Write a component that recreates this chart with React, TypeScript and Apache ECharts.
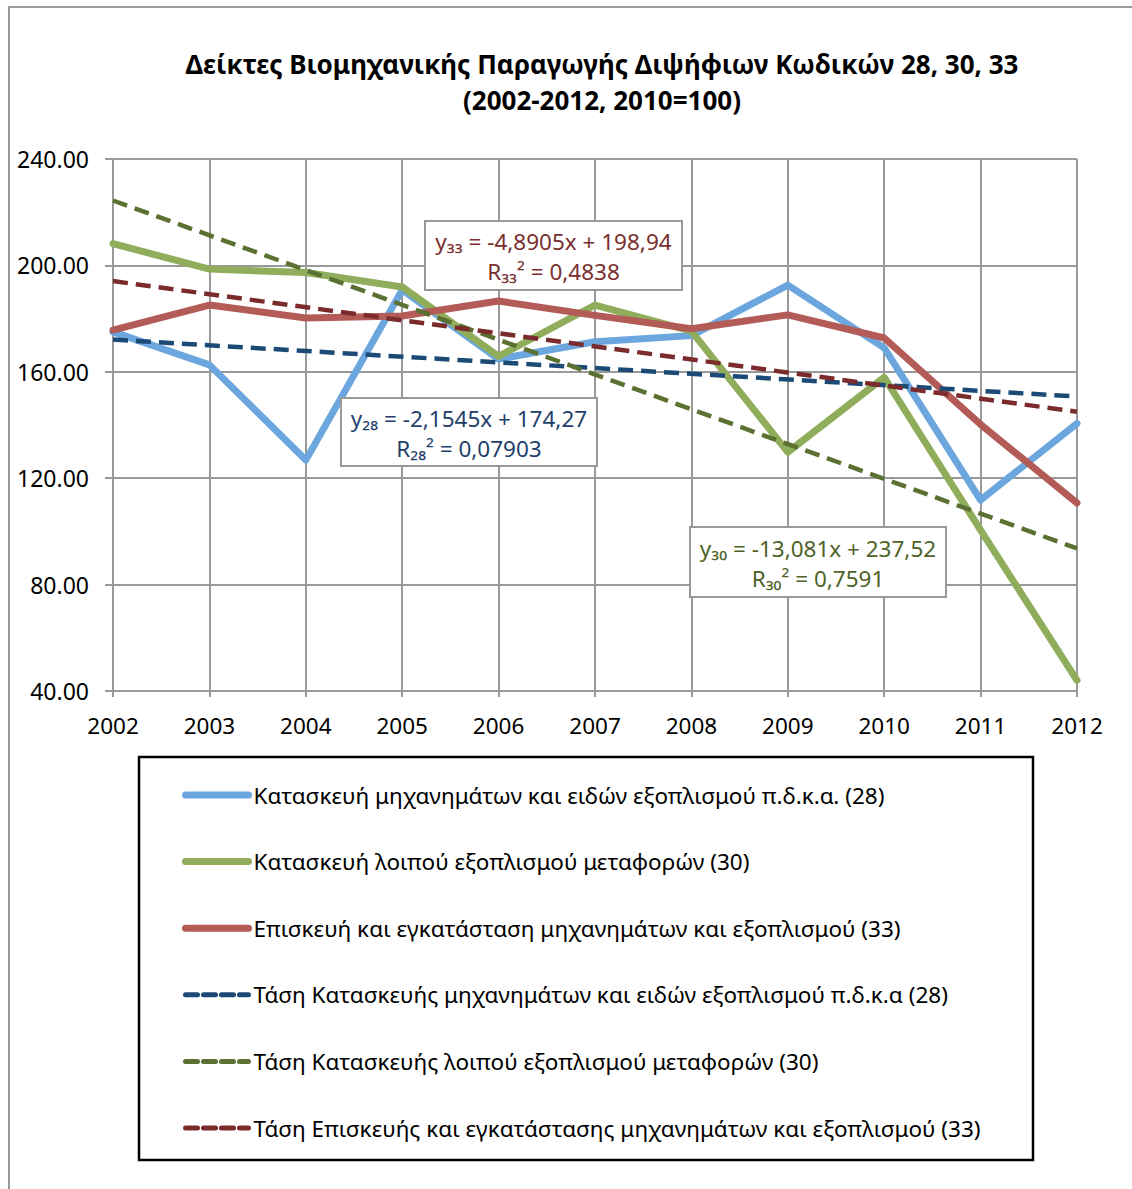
import React, { useEffect, useRef } from "react";
import * as echarts from "echarts";

const years = ["2002", "2003", "2004", "2005", "2006", "2007", "2008", "2009", "2010", "2011", "2012"];
const yTicks = [40, 240, 40]; // min, max, interval

const s28 = [175.0, 162.6, 126.8, 190.8, 164.8, 171.3, 173.6, 192.6, 169.0, 111.8, 140.6];
const s30 = [208.2, 198.6, 197.3, 191.9, 165.8, 185.1, 175.3, 129.8, 157.9, 100.5, 44.0];
const s33 = [175.7, 185.1, 180.2, 181.0, 186.6, 181.2, 176.2, 181.4, 172.7, 140.2, 110.7];

// trend line end values (2002, 2012)
const t28 = [172.1, 150.7];
const t30 = [224.4, 93.6];
const t33 = [194.1, 145.0];

const names = [
  "Κατασκευή μηχανημάτων και ειδών εξοπλισμού π.δ.κ.α. (28)",
  "Κατασκευή λοιπού εξοπλισμού μεταφορών (30)",
  "Επισκευή και εγκατάσταση μηχανημάτων και εξοπλισμού (33)",
  "Τάση Κατασκευής μηχανημάτων και ειδών εξοπλισμού π.δ.κ.α (28)",
  "Τάση Κατασκευής λοιπού εξοπλισμού μεταφορών (30)",
  "Τάση Επισκευής και εγκατάστασης μηχανημάτων και εξοπλισμού (33)",
];

const eq33 = ["y₃₃ = -4,8905x + 198,94", "R₃₃² = 0,4838"];
const eq28 = ["y₂₈ = -2,1545x + 174,27", "R₂₈² = 0,07903"];
const eq30 = ["y₃₀ = -13,081x + 237,52", "R₃₀² = 0,7591"];

const titleText = "Δείκτες Βιομηχανικής Παραγωγής Διψήφιων Κωδικών 28, 30, 33\n(2002-2012, 2010=100)";

const FONT = "Noto Sans";

function eqBox(x: number, y: number, w: number, h: number, color: string, lines: string[]) {
  return {
    type: "group",
    x,
    y,
    z: 50,
    children: [
      { type: "rect", z: 50, shape: { x: 0, y: 0, width: w, height: h }, style: { fill: "#fff", stroke: "#999", lineWidth: 2 } },
      {
        type: "text",
        z: 51,
        x: w / 2,
        y: h / 2 + 1,
        style: {
          text: lines.join("\n"),
          fontFamily: FONT,
          fontSize: 22.5,
          lineHeight: 30,
          fill: color,
          align: "center",
          verticalAlign: "middle",
        },
      },
    ],
  };
}

export default function App() {
  const ref = useRef<HTMLDivElement>(null);
  useEffect(() => {
    if (!ref.current) return;
    const chart = echarts.init(ref.current, null, { renderer: "svg" });
    const trendData = (t: number[]) => [
      [0, t[0]],
      [years.length - 1, t[1]],
    ];
    const solid = (name: string, data: number[], color: string) => ({
      name,
      type: "line",
      data,
      symbol: "none",
      lineStyle: { color, width: 7, cap: "round", join: "round" },
      itemStyle: { color },
    });
    const dashed = (name: string, t: number[], color: string) => ({
      name,
      type: "line",
      data: trendData(t),
      symbol: "none",
      lineStyle: { color, width: 4.5, type: [15, 8] },
      itemStyle: { color },
    });
    const legendData = names.map((n, i) => ({
      name: n,
      lineStyle: i < 3 ? { width: 7, cap: "round" } : { width: 5, type: [12, 6], cap: "round" },
    }));
    chart.setOption({
      animation: false,
      backgroundColor: "#fff",
      title: {
        text: titleText,
        left: 602,
        top: 46,
        padding: 0,
        textAlign: "center",
        textStyle: { fontFamily: FONT, fontSize: 26, fontWeight: "bold", color: "#000", lineHeight: 36 },
      },
      grid: { left: 113, right: 55, top: 159, bottom: 498, containLabel: false },
      xAxis: {
        type: "category",
        data: years,
        boundaryGap: false,
        axisLine: { lineStyle: { color: "#999", width: 2 } },
        axisTick: { show: true, length: 6, lineStyle: { color: "#999", width: 2 } },
        splitLine: { show: true, lineStyle: { color: "#999", width: 2 } },
        axisLabel: { fontFamily: FONT, fontSize: 22.5, color: "#000", margin: 23 },
      },
      yAxis: {
        type: "value",
        min: yTicks[0],
        max: yTicks[1],
        interval: yTicks[2],
        axisLine: { show: true, lineStyle: { color: "#999", width: 2 } },
        axisTick: { show: true, length: 8, lineStyle: { color: "#999", width: 2 } },
        splitLine: { show: true, lineStyle: { color: "#999", width: 2 } },
        axisLabel: { fontFamily: FONT, fontSize: 23, color: "#000", margin: 24, formatter: (v: number) => v.toFixed(2) },
      },
      legend: {
        orient: "vertical",
        left: 182,
        top: 783,
        padding: 0,
        itemWidth: 63,
        itemHeight: 24,
        itemGap: 42.6,
        itemStyle: { opacity: 0 },
        textStyle: { fontFamily: FONT, fontSize: 22.5, color: "#000", lineHeight: 24 },
        data: legendData,
      },
      graphic: [
        { type: "rect", shape: { x: 9, y: 7, width: 1200, height: 1300 }, style: { fill: "none", stroke: "#999", lineWidth: 2 }, z: -1, silent: true },
        { type: "rect", shape: { x: 139, y: 757, width: 894, height: 403 }, style: { fill: "none", stroke: "#000", lineWidth: 2.5 }, silent: true },
        eqBox(425, 221, 257, 69, "#7A2F2F", eq33),
        eqBox(341, 398, 256, 68, "#1F3F6B", eq28),
        eqBox(690, 527, 256, 70, "#4F6228", eq30),
      ],
      series: [
        solid(names[0], s28, "#6CA6DE"),
        solid(names[1], s30, "#8FAD5A"),
        solid(names[2], s33, "#B35B57"),
        dashed(names[3], t28, "#1C4A76"),
        dashed(names[4], t30, "#5A7132"),
        dashed(names[5], t33, "#7B2B2B"),
      ],
    });
    return () => chart.dispose();
  }, []);
  return (
    <div
      ref={ref}
      style={{ position: "absolute", left: 0, top: 0, width: 1132, height: 1189, background: "#fff" }}
    />
  );
}
